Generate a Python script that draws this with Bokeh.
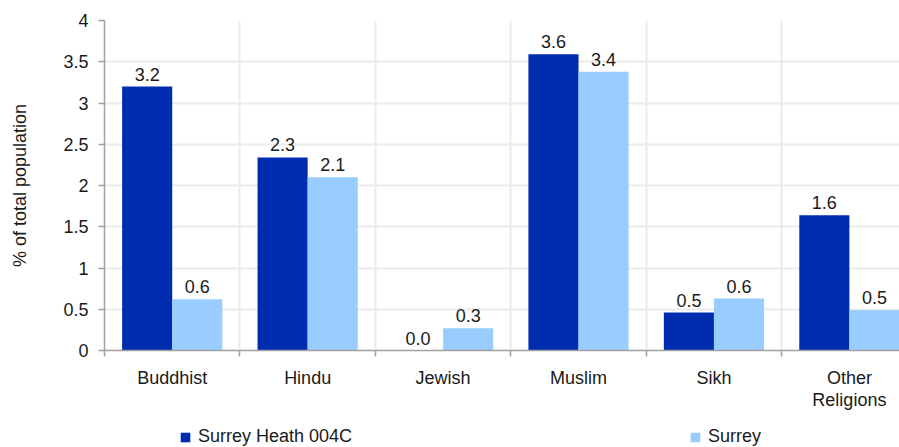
import numpy as np
from bokeh.plotting import figure
from bokeh.layouts import column
from bokeh.models import (ColumnDataSource, Range1d, FixedTicker, NumeralTickFormatter,
                          LabelSet, Legend, LegendItem)
from bokeh.core.properties import value
from bokeh.embed import file_html
from bokeh.resources import INLINE

categories = ["Buddhist", "Hindu", "Jewish", "Muslim", "Sikh", "Other\nReligions"]
series_names = ["Surrey Heath 004C", "Surrey"]
surrey_heath = [3.20, 2.34, 0.0, 3.59, 0.46, 1.64]
surrey = [0.62, 2.10, 0.27, 3.38, 0.63, 0.49]
y_ticks = [0, 0.5, 1, 1.5, 2, 2.5, 3, 3.5, 4]

DARK = "#002DB0"
LIGHT = "#99CCFF"
COLORS = [DARK, LIGHT]
FONT = "Liberation Sans"
TXT = "#1a1a1a"
FS = "18px"

n = len(categories)
centers = np.arange(n) + 0.5
bw = 0.37

src1 = ColumnDataSource(dict(x=centers - bw / 2, y=surrey_heath,
                             lab=[f"{v:.1f}" for v in surrey_heath]))
src2 = ColumnDataSource(dict(x=centers + bw / 2, y=surrey,
                             lab=[f"{v:.1f}" for v in surrey]))
sources = [src1, src2]

p = figure(width=899, height=420, output_backend="svg", toolbar_location=None,
           x_range=Range1d(0, 5.87), y_range=Range1d(0, 4))
p.min_border_left = 104
p.min_border_right = 0
p.min_border_top = 20
p.min_border_bottom = 70
p.outline_line_color = None
p.background_fill_color = "white"
p.border_fill_color = "white"

for src, col in zip(sources, COLORS):
    p.vbar(x="x", top="y", width=bw, source=src, fill_color=col, line_color=None)
    p.add_layout(LabelSet(x="x", y="y", text="lab", source=src, y_offset=6,
                          text_align="center", text_baseline="bottom",
                          text_font=value(FONT), text_font_size=value(FS),
                          text_color=TXT))

# x axis
xa = p.xaxis[0]
xa.ticker = FixedTicker(ticks=list(centers), minor_ticks=list(range(n + 1)))
xa.major_label_overrides = {float(c): lab for c, lab in zip(centers, categories)}
xa.major_tick_out = 0
xa.major_tick_in = 0
xa.minor_tick_out = 6
xa.minor_tick_in = 0
xa.minor_tick_line_color = "#a0a0a0"
xa.minor_tick_line_width = 1.5
xa.axis_line_color = "#a0a0a0"
xa.axis_line_width = 1.5
xa.major_label_text_font = FONT
xa.major_label_text_font_size = FS
xa.major_label_text_color = TXT
xa.major_label_text_line_height = 1.1
xa.major_label_standoff = 11

# y axis
ya = p.yaxis[0]
ya.ticker = FixedTicker(ticks=y_ticks, minor_ticks=[])
ya.formatter = NumeralTickFormatter(format="0.[0]")
ya.major_tick_out = 6
ya.major_tick_in = 0
ya.major_tick_line_color = "#a0a0a0"
ya.major_tick_line_width = 1.5
ya.axis_line_color = "#a0a0a0"
ya.axis_line_width = 1.5
ya.major_label_text_font = FONT
ya.major_label_text_font_size = FS
ya.major_label_text_color = TXT
ya.major_label_standoff = 10
ya.axis_label = "% of total population"
ya.axis_label_text_font = FONT
ya.axis_label_text_font_size = FS
ya.axis_label_text_font_style = "normal"
ya.axis_label_text_color = TXT
ya.axis_label_standoff = 30

# grids
p.xgrid.ticker = FixedTicker(ticks=list(range(1, n + 1)))
p.xgrid.grid_line_color = "#ebebeb"
p.xgrid.grid_line_width = 2
p.ygrid.ticker = FixedTicker(ticks=y_ticks[1:])
p.ygrid.grid_line_color = "#ebebeb"
p.ygrid.grid_line_width = 2

# legend strip below the chart (its frame is aligned with the chart's frame)
lg = figure(width=899, height=27, output_backend="svg", toolbar_location=None,
            x_axis_location=None, y_axis_location=None,
            x_range=Range1d(0, 1), y_range=Range1d(100, 101))
lg.min_border = 0
lg.outline_line_color = None
lg.grid.visible = False
swatches = [lg.vbar(x="x", top="y", width=bw, source=src, fill_color=col, line_color=None)
            for src, col in zip(sources, COLORS)]
leg = Legend(items=[LegendItem(label=nm, renderers=[r]) for nm, r in zip(series_names, swatches)],
             location=(75, 0), orientation="horizontal", padding=0, margin=0,
             spacing=337, border_line_color=None, background_fill_alpha=0,
             glyph_width=12, glyph_height=12, label_standoff=7, label_height=18,
             label_text_font=FONT, label_text_font_size=FS, label_text_color=TXT)
lg.add_layout(leg)

open("out.html", "w").write(file_html(column(p, lg, spacing=0), INLINE))
